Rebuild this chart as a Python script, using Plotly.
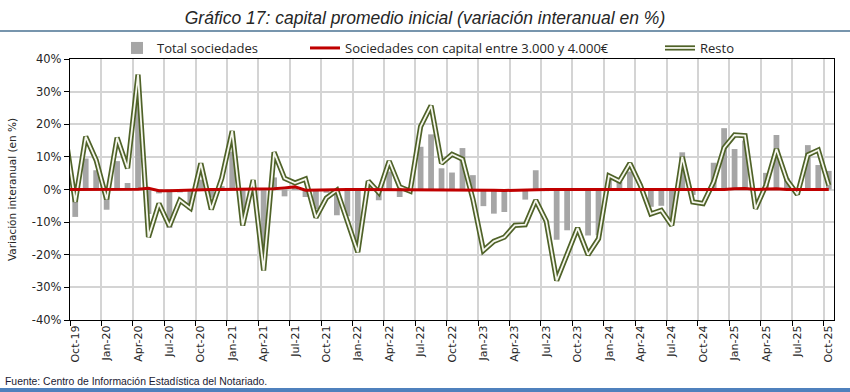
import pandas as pd
import plotly.graph_objects as go

# ---------------- data ----------------
months = pd.date_range("2019-09-01", "2025-10-01", freq="MS").strftime("%b-%y").tolist()

total_sociedades = [
    None,
    -8.4, 9.5, 5.9, -6.2, 8.7, 2.0, 27.5, -7.5, -1.2, -11.8, -0.9, -6.2,
    3.0, -2.5, 1.0, 11.6, -6.0, -1.0, -19.5, 3.7, -2.1, 0.5, -2.3, -6.0,
    -1.0, -7.9, -8.2, -17.0, 1.0, -3.3, 5.5, -2.3, -0.5, 13.1, 16.9, 6.5,
    5.2, 12.7, 4.4, -5.1, -7.4, -6.9, -0.3, -3.1, 5.9, -0.5, -15.4, -12.5,
    -0.3, -14.1, -14.0, 3.0, 2.3, 5.5, 0.5, -5.3, -5.0, -9.0, 11.4, -1.7,
    -0.5, 8.2, 18.8, 12.4, 15.0, -0.5, 5.1, 16.7, 3.5, 0.3, 13.6, 7.5,
    5.7,
]

capital_3000_4000 = [
    0.0,
    0.0, 0.0, 0.0, 0.0, 0.0, 0.0, 0.1, 0.4, -0.4, -0.4, -0.3, 0.0,
    0.0, 0.0, 0.0, 0.0, 0.0, 0.0, 0.0, 0.2, 0.5, 0.8, -0.2, -0.1,
    0.0, 0.0, 0.0, 0.0, 0.0, 0.0, 0.0, 0.0, 0.0, 0.0, 0.0, 0.0,
    0.0, 0.0, 0.0, 0.0, -0.2, -0.3, -0.2, 0.0, 0.0, 0.0, 0.0, 0.0,
    0.0, -0.1, 0.0, 0.0, 0.0, 0.0, 0.0, 0.0, 0.0, 0.0, 0.0, 0.0,
    0.0, 0.0, 0.0, 0.2, 0.3, 0.0, 0.2, 0.2, 0.0, 0.0, 0.0, 0.0,
    0.0,
]

resto = [
    18.0,
    -3.8, 16.2, 9.0, -3.0, 15.9, 6.5, 35.2, -14.6, -4.3, -11.2, -3.3, -5.7,
    8.0, -6.1, 3.4, 17.9, -11.0, 2.9, -24.8, 11.4, 3.4, 2.0, 3.2, -8.6,
    -2.6, -0.2, -10.0, -19.2, 2.6, -0.9, 8.7, 0.8, -0.5, 19.3, 25.7, 8.0,
    10.8, 9.3, -3.0, -18.7, -15.9, -14.6, -11.0, -10.8, -3.3, -9.7, -27.9, -19.7,
    -11.8, -20.0, -15.1, 4.2, 2.6, 8.0, 1.3, -7.5, -6.4, -11.0, 10.0, -3.8,
    -4.3, 2.3, 12.8, 16.7, 16.5, -5.9, 1.3, 12.4, 2.9, -1.5, 10.6, 12.1,
    1.3,
]

y_ticks = [-40, -30, -20, -10, 0, 10, 20, 30, 40]

# ---------------- figure ----------------
W, H = 850, 392
ML, MR, MT, MB = 70, 16, 59, 72
PW, PH = W - ML - MR, H - MT - MB

def px_x(px):
    return (px - ML) / PW

def px_y(py):
    return (H - MB - py) / PH

x = list(range(len(months)))
label_idx = x[1::3]
label_txt = months[1::3]
boundaries = [i + 0.5 for i in range(0, len(months), 3)]

fig = go.Figure()

fig.add_trace(go.Bar(
    x=x, y=total_sociedades, name="Total sociedades",
    marker=dict(color="#a6a6a6", line=dict(width=0)), width=0.55,
    legend="legend",
))
fig.add_trace(go.Scatter(
    x=x, y=resto, name="Resto", mode="lines",
    line=dict(color="#4f6228", width=5.2), legend="legend3",
))
fig.add_trace(go.Scatter(
    x=x, y=resto, name="Resto", mode="lines",
    line=dict(color="#f6f7ee", width=1.8), legend="legend4",
))
fig.add_trace(go.Scatter(
    x=x, y=capital_3000_4000, name="Sociedades con capital entre 3.000 y 4.000€",
    mode="lines", line=dict(color="#c00000", width=3), legend="legend2",
))

legend_font = dict(family="Open Sans, Liberation Sans, sans-serif", size=13, color="#262626")
leg_y = px_y(48)
common_leg = dict(orientation="h", yanchor="middle", y=leg_y, xanchor="left",
                  bgcolor="rgba(0,0,0,0)", font=legend_font, borderwidth=0)

fig.update_layout(
    width=W, height=H,
    margin=dict(l=ML, r=MR, t=MT, b=MB, autoexpand=False),
    paper_bgcolor="white", plot_bgcolor="white",
    bargap=0.45,
    title=dict(
        text="<i>Gráfico 17: capital promedio inicial (variación interanual en %)</i>",
        x=0.5, xref="container", xanchor="center",
        y=1 - 18 / H, yref="container", yanchor="middle",
        font=dict(family="Liberation Sans Narrow, Arial Narrow, Liberation Sans, sans-serif",
                  size=17.5, color="#262626"),
    ),
    legend=dict(common_leg, x=px_x(117)),
    legend2=dict(common_leg, x=px_x(305)),
    legend3=dict(common_leg, x=px_x(660)),
    legend4=dict(common_leg, x=px_x(660),
                 font=dict(legend_font, color="rgba(0,0,0,0)")),
    xaxis=dict(
        range=[0.5, len(months) - 0.5],
        tickmode="array", tickvals=label_idx, ticktext=label_txt,
        tickangle=-90, ticks="", showgrid=False,
        tickfont=dict(family="DejaVu Sans, Verdana, sans-serif", size=11, color="#262626"),
        showline=True, linecolor="black", linewidth=1.3, mirror=True,
        minor=dict(tickmode="array", tickvals=boundaries, ticks="outside", ticklen=5,
                   tickcolor="black", tickwidth=1, showgrid=True,
                   gridcolor="#d4d4d4", gridwidth=1.5),
        zeroline=False, fixedrange=True, automargin=False,
    ),
    yaxis=dict(
        range=[-40, 40], tickmode="array", tickvals=y_ticks,
        ticktext=[f"{v}%" for v in y_ticks],
        tickfont=dict(family="DejaVu Sans, Verdana, sans-serif", size=11.5, color="#262626"),
        ticks="outside", ticklen=5, tickcolor="black",
        showgrid=True, gridcolor="#d4d4d4", gridwidth=1.5,
        showline=True, linecolor="black", linewidth=1.3, mirror=True,
        zeroline=False, automargin=False,
        title=dict(text="Variación interanual (en %)", standoff=13,
                   font=dict(family="DejaVu Sans, Verdana, sans-serif", size=10.5, color="#262626")),
    ),
    showlegend=True,
)

# decorative rules (title underline and bottom band)
fig.add_shape(type="line", xref="paper", yref="paper",
              x0=px_x(0), x1=px_x(W), y0=px_y(31), y1=px_y(31),
              line=dict(color="#4a7292", width=1.5))
fig.add_shape(type="line", xref="paper", yref="paper",
              x0=px_x(0), x1=px_x(W), y0=px_y(390), y1=px_y(390),
              line=dict(color="#4f81bd", width=4))

fig.add_annotation(
    text="Fuente: Centro de Información Estadística del Notariado.",
    xref="paper", yref="paper", x=px_x(3), y=px_y(381),
    xanchor="left", yanchor="middle", showarrow=False,
    font=dict(family="Liberation Sans Narrow, Arial Narrow, Liberation Sans, sans-serif",
              size=10.4, color="#1a1a33"),
)

fig.write_html(
    "out.html",
    config={"displayModeBar": False},
    post_script="document.body.style.margin='0';document.body.style.overflow='hidden';",
)
